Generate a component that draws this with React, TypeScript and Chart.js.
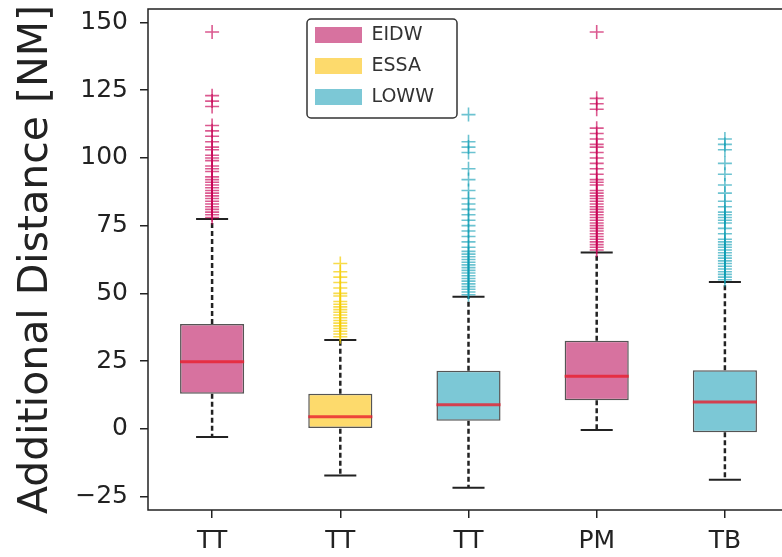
import React, { useEffect, useRef } from "react";
import { Chart, registerables } from "chart.js";

Chart.register(...registerables);

// ---------- data ----------
const categories = ["TT", "TT", "TT", "PM", "TB"];
const positions = [1, 2, 3, 4, 5];
const airports = ["EIDW", "ESSA", "LOWW"];
const boxAirport = [0, 1, 2, 0, 2];

const whiskerLow = [-3, -17.3, -21.8, -0.5, -18.8];
const q1 = [12.9, 0, 3, 10.5, -1.3];
const median = [24.7, 4.4, 8.9, 19.4, 9.9];
const q3 = [38.7, 12.9, 21.4, 32.5, 21.6];
const whiskerHigh = [77.5, 32.8, 48.7, 65.1, 54.2];

const outliersEIDW_TT = [78, 79, 80, 81, 82, 83, 84, 85, 86, 87, 88, 89, 90, 91, 92, 93, 95, 96, 97, 99, 100, 101, 103, 104, 106, 108, 110, 112, 119, 121, 123, 146.5];
const outliersESSA_TT = [34, 35, 36, 37, 38, 39, 40, 41, 42, 43, 44, 45, 46, 47, 49, 50, 52, 54, 56, 58, 61];
const outliersLOWW_TT = [49.5, 50.5, 51.5, 52.5, 53.5, 54.5, 55.5, 56.5, 57.5, 58.5, 59.5, 60.5, 61.5, 62.5, 63.5, 64.5, 65.5, 67, 69, 71, 73, 75, 77, 79, 81, 83, 85, 88, 92, 96, 102, 104, 106, 116];
const outliersEIDW_PM = [66, 67, 68, 69, 70, 71, 72, 73, 74, 75, 76, 77, 78, 79, 80, 81, 82, 83, 84, 85, 86, 87, 88, 90, 91, 92, 94, 96, 98, 100, 102, 104, 105, 107, 109, 111, 118, 120, 122, 146.5];
const outliersLOWW_TB = [55, 56, 57, 58, 59, 60, 61, 62, 63, 64, 65, 66, 67, 68, 69, 70, 72, 74, 76, 77, 78, 79, 80, 82, 84, 87, 90, 94, 98, 103, 105, 107];
const outliers = [outliersEIDW_TT, outliersESSA_TT, outliersLOWW_TT, outliersEIDW_PM, outliersLOWW_TB];

const yTicks = [-25, 0, 25, 50, 75, 100, 125, 150];
const yTitle = "Additional Distance [NM]";

// ---------- styles ----------
const FONT = "DejaVu Sans";
const boxFill = ["#d7729f", "#fdda6c", "#7cc8d6"];
const outlierColor = ["rgba(200,0,85,0.65)", "rgba(245,205,0,0.7)", "rgba(10,155,178,0.6)"];
const INK = "#222";

const framePlugin = {
  id: "frame",
  beforeDatasetsDraw(chart: any) {
    const { ctx, chartArea } = chart;
    ctx.save();
    ctx.strokeStyle = INK;
    ctx.lineWidth = 1.5;
    ctx.strokeRect(chartArea.left, chartArea.top, chartArea.right - chartArea.left, chartArea.bottom - chartArea.top);
    ctx.restore();
  },
};

const legendPlacement = {
  id: "legendPlacement",
  afterLayout(chart: any) {
    const lg = chart.legend;
    if (!lg) return;
    const w = lg.width;
    const h = lg.height;
    lg.left = 303;
    lg.top = 13.5;
    lg.right = lg.left + w;
    lg.bottom = lg.top + h;
  },
  beforeDraw(chart: any) {
    const lg = chart.legend;
    if (!lg) return;
    const { ctx } = chart;
    const x = lg.left + 4;
    const y = lg.top + 5.5;
    const w = 150;
    const h = 99;
    ctx.save();
    ctx.beginPath();
    ctx.roundRect(x, y, w, h, 4);
    ctx.fillStyle = "#fff";
    ctx.fill();
    ctx.strokeStyle = "#333";
    ctx.lineWidth = 1.5;
    ctx.stroke();
    ctx.restore();
  },
};

export default function App() {
  const ref = useRef<HTMLCanvasElement>(null);

  useEffect(() => {
    if (!ref.current) return;

    const boxDatasets = airports.map((name, a) => ({
      type: "bar" as const,
      label: name,
      data: positions
        .map((p, i) => ({ i, p }))
        .filter(({ i }) => boxAirport[i] === a)
        .map(({ i, p }) => ({ x: p, y: [q1[i], q3[i]] })),
      backgroundColor: boxFill[a],
      borderColor: "#555",
      borderWidth: 1.5,
      borderSkipped: false,
      grouped: false,
      barPercentage: 0.5,
      categoryPercentage: 1,
      order: 3,
    }));

    const whiskerData = positions.flatMap((p, i) => [
      { x: p, y: q3[i] },
      { x: p, y: whiskerHigh[i] },
      { x: p, y: null },
      { x: p, y: q1[i] },
      { x: p, y: whiskerLow[i] },
      { x: p, y: null },
    ]);
    const capData = positions.flatMap((p, i) => [
      { x: p - 0.125, y: whiskerHigh[i] },
      { x: p + 0.125, y: whiskerHigh[i] },
      { x: p, y: null },
      { x: p - 0.125, y: whiskerLow[i] },
      { x: p + 0.125, y: whiskerLow[i] },
      { x: p, y: null },
    ]);
    const medianData = positions.flatMap((p, i) => [
      { x: p - 0.25, y: median[i] },
      { x: p + 0.25, y: median[i] },
      { x: p, y: null },
    ]);

    const lineCommon = {
      type: "line" as const,
      pointRadius: 0,
      pointHoverRadius: 0,
      fill: false,
      spanGaps: false,
      tension: 0,
    };

    const outlierDatasets = positions.map((p, i) => ({
      type: "scatter" as const,
      label: categories[i] + " outliers " + i,
      data: outliers[i].map((v) => ({ x: p, y: v })),
      pointStyle: "cross",
      pointRadius: 7,
      pointBorderWidth: 1.6,
      borderColor: outlierColor[boxAirport[i]],
      backgroundColor: outlierColor[boxAirport[i]],
      order: 1,
    }));

    const chart = new Chart(ref.current, {
      type: "bar",
      data: {
        datasets: [
          ...boxDatasets,
          { ...lineCommon, label: "whiskers", data: whiskerData, borderColor: INK, borderWidth: 2.5, borderDash: [5, 3], order: 4 },
          { ...lineCommon, label: "caps", data: capData, borderColor: INK, borderWidth: 2, order: 2 },
          { ...lineCommon, label: "medians", data: medianData, borderColor: "rgba(232,30,45,0.8)", borderWidth: 3, order: 0 },
          ...outlierDatasets,
        ] as any,
      },
      options: {
        responsive: false,
        maintainAspectRatio: false,
        animation: false,
        layout: { padding: { left: 0, top: 9, right: 11, bottom: 0 } },
        plugins: {
          tooltip: { enabled: false },
          legend: {
            display: true,
            position: "chartArea" as any,
            align: "start",
            labels: {
              filter: (item: any) => airports.includes(item.text),
              generateLabels: (c: any) =>
                Chart.defaults.plugins.legend.labels.generateLabels(c).map((it: any) => ({ ...it, lineWidth: 0 })),
              boxWidth: 47,
              boxHeight: 16,
              padding: 12,
              color: "#333",
              font: { family: FONT, size: 19 },
            },
          },
        },
        scales: {
          x: {
            type: "linear",
            min: 0.5,
            max: 5.5,
            offset: false,
            afterBuildTicks: (s: any) => {
              s.ticks = positions.map((v) => ({ value: v }));
            },
            afterFit: (s: any) => {
              s.height = 47;
              s.paddingLeft = 0;
              s.paddingRight = 0;
            },
            grid: { offset: false, drawOnChartArea: false, drawTicks: true, tickLength: 8, color: INK, lineWidth: 1.5 },
            border: { display: false },
            ticks: {
              autoSkip: false,
              maxRotation: 0,
              padding: 8,
              color: INK,
              font: { family: FONT, size: 25 },
              callback: (v: any) => {
                const k = positions.indexOf(Number(v));
                return k >= 0 ? categories[k] : "";
              },
            },
          },
          y: {
            type: "linear",
            min: -30,
            max: 155,
            afterBuildTicks: (s: any) => {
              s.ticks = yTicks.map((v) => ({ value: v }));
            },
            afterFit: (s: any) => {
              s.width = 148;
              s.paddingTop = 0;
              s.paddingBottom = 0;
            },
            grid: { drawOnChartArea: false, drawTicks: true, tickLength: 8, color: INK, lineWidth: 1.5 },
            border: { display: false },
            ticks: {
              padding: 12,
              color: INK,
              font: { family: FONT, size: 25 },
              callback: (v: any) => (Number(v) < 0 ? "\u2212" + Math.abs(Number(v)) : String(v)),
            },
            title: {
              display: true,
              text: yTitle,
              color: INK,
              font: { family: FONT, size: 41 },
              padding: { top: 12, bottom: 0 },
            },
          },
        },
      } as any,
      plugins: [framePlugin, legendPlacement],
    });

    return () => chart.destroy();
  }, []);

  return (
    <div
      style={{
        position: "fixed",
        left: 0,
        top: 0,
        width: 782,
        height: 557,
        overflow: "hidden",
        background: "#fff",
      }}
    >
      <canvas ref={ref} width={800} height={557} style={{ display: "block", width: 800, height: 557 }} />
    </div>
  );
}
